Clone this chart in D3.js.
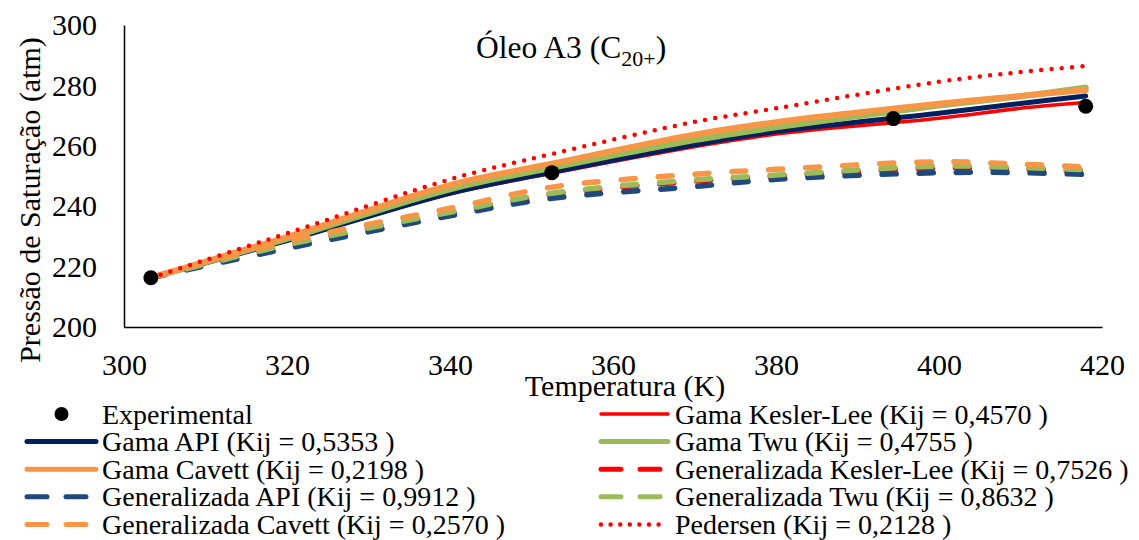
<!DOCTYPE html>
<meta charset="utf-8">
<style>
  body { margin: 0; background: #fff; }
  svg text { font-family: "Times New Roman", "Liberation Serif", Tinos, Times, "DejaVu Serif", serif; fill: #000; }
</style>
<script src="https://d3js.org/d3.v7.min.js"></script>
<div id="chart"></div>
<script>
// data
var tempGrid   = [303.3, 320, 340, 352.5, 370, 380, 400, 410, 418];
var gamaAPI    = [216.3, 228.6, 244.3, 251.2, 260.3, 264.7, 270.8, 274.0, 276.5];
var gamaKL     = [216.3, 228.5, 244.1, 250.9, 259.7, 263.9, 269.1, 272.4, 274.3];
var gamaTwu    = [216.3, 229.2, 245.6, 252.7, 261.9, 266.1, 273.3, 276.4, 279.3];
var gamaCavett = [216.3, 229.8, 247.0, 254.1, 263.7, 267.8, 273.9, 276.5, 278.5];
var genAPI     = [216.3, 226.0, 236.8, 242.6, 246.5, 248.9, 251.1, 251.1, 250.5];
var genKL      = [216.3, 227.0, 237.7, 243.9, 248.3, 249.9, 252.7, 252.3, 251.6];
var genTwu     = [216.3, 227.2, 238.0, 244.3, 248.7, 250.3, 253.3, 252.8, 252.1];
var genCavett  = [216.3, 228.3, 239.3, 246.3, 250.6, 252.2, 254.7, 253.9, 253.0];
var pedersen   = [216.3, 231.0, 248.9, 257.3, 267.9, 272.4, 281.2, 284.4, 286.4];

var expT = [303.3, 352.5, 394.4, 418.0];
var expP = [216.3, 251.1, 269.0, 273.1];

var xTicks = [300, 320, 340, 360, 380, 400, 420];
var yTicks = [200, 220, 240, 260, 280, 300];

var FONT = "'Times New Roman', 'Liberation Serif', Tinos, Times, 'DejaVu Serif', serif";

// series in drawing order
var series = [
  {name: "Gama Kesler-Lee (Kij = 0,4570 )",        values: gamaKL,     color: "#ff0000", width: 3.5, dash: null},
  {name: "Gama API (Kij = 0,5353 )",               values: gamaAPI,    color: "#002060", width: 5,   dash: null},
  {name: "Gama Twu (Kij = 0,4755 )",               values: gamaTwu,    color: "#9bbb59", width: 6,   dash: null},
  {name: "Gama Cavett (Kij = 0,2198 )",            values: gamaCavett, color: "#f79646", width: 6,   dash: null},
  {name: "Generalizada Kesler-Lee (Kij = 0,7526 )",values: genKL,      color: "#ff0000", width: 5.5, dash: "14,23"},
  {name: "Generalizada API (Kij = 0,9912 )",       values: genAPI,     color: "#1f497d", width: 5.5, dash: "14,23"},
  {name: "Generalizada Twu (Kij = 0,8632 )",       values: genTwu,     color: "#9bbb59", width: 5.5, dash: "14,23"},
  {name: "Generalizada Cavett (Kij = 0,2570 )",    values: genCavett,  color: "#f79646", width: 5.5, dash: "14,23"},
  {name: "Pedersen (Kij = 0,2128 )",               values: pedersen,   color: "#ff0000", width: 4.5, dash: "0,10.3"}
];

var W = 1139, H = 540;
var margin = {top: 25, left: 124, right: 37, bottom: 213};

var svg = d3.select("#chart").append("svg")
    .attr("width", W).attr("height", H);

var x = d3.scaleLinear().domain([300, 420]).range([margin.left, W - margin.right]);
var y = d3.scaleLinear().domain([200, 300]).range([H - margin.bottom, margin.top]);

// axes (only the lines and labels, no ticks)
var xAxis = svg.append("g")
    .attr("transform", "translate(0," + y(200) + ")")
    .call(d3.axisBottom(x).tickValues(xTicks).tickSize(0).tickPadding(27));
xAxis.attr("font-family", FONT);
xAxis.select(".domain").attr("stroke", "#000").attr("stroke-width", 1.5);
xAxis.selectAll("text").style("font-size", "30px").attr("fill", "#000");

var yAxis = svg.append("g")
    .attr("transform", "translate(" + x(300) + ",0)")
    .call(d3.axisLeft(y).tickValues(yTicks).tickSize(0).tickPadding(27));
yAxis.attr("font-family", FONT);
yAxis.select(".domain").attr("stroke", "#000").attr("stroke-width", 1.5);
yAxis.selectAll("text").style("font-size", "30px").attr("fill", "#000");

// curves
var line = d3.line()
    .x(function(d) { return x(d[0]); })
    .y(function(d) { return y(d[1]); })
    .curve(d3.curveCatmullRom.alpha(0.5));

series.forEach(function(s) {
  svg.append("path")
    .datum(tempGrid.map(function(t, i) { return [t, s.values[i]]; }))
    .attr("d", line)
    .attr("fill", "none")
    .attr("stroke", s.color)
    .attr("stroke-width", s.width)
    .attr("stroke-linecap", "round")
    .attr("stroke-dasharray", s.dash);
});

// experimental points
svg.selectAll(".exp")
  .data(expT.map(function(t, i) { return [t, expP[i]]; }))
  .enter().append("circle")
    .attr("cx", function(d) { return x(d[0]); })
    .attr("cy", function(d) { return y(d[1]); })
    .attr("r", 7.5)
    .attr("fill", "#000");

// titles
var title = svg.append("text")
    .attr("x", 476).attr("y", 58)
    .style("font-size", "31.5px");
title.append("tspan").text("Óleo A3 (C");
title.append("tspan").text("20+").attr("dy", 8).style("font-size", "22px");
title.append("tspan").text(")").attr("dy", -8);

svg.append("text")
    .attr("x", 625).attr("y", 396)
    .attr("text-anchor", "middle")
    .style("font-size", "30px")
    .text("Temperatura (K)");

svg.append("text")
    .attr("transform", "translate(40,200) rotate(-90)")
    .attr("text-anchor", "middle")
    .style("font-size", "30px")
    .text("Pressão de Saturação (atm)");

// legend, two columns like the reference
var leftCol = ["Experimental", "Gama API (Kij = 0,5353 )", "Gama Cavett (Kij = 0,2198 )",
               "Generalizada API (Kij = 0,9912 )", "Generalizada Cavett (Kij = 0,2570 )"];
var rightCol = ["Gama Kesler-Lee (Kij = 0,4570 )", "Gama Twu (Kij = 0,4755 )",
                "Generalizada Kesler-Lee (Kij = 0,7526 )", "Generalizada Twu (Kij = 0,8632 )",
                "Pedersen (Kij = 0,2128 )"];

function drawLegendCol(names, x0, sx0, sx1) {
  names.forEach(function(n, i) {
    var cy = 414 + i * 27.6;
    var g = svg.append("g");
    if (n === "Experimental") {
      g.append("circle").attr("cx", (sx0 + sx1) / 2).attr("cy", cy).attr("r", 7).attr("fill", "#000");
    } else {
      var s = series.filter(function(d) { return d.name === n; })[0];
      g.append("line")
        .attr("x1", sx0).attr("x2", sx1).attr("y1", cy).attr("y2", cy)
        .attr("stroke", s.color)
        .attr("stroke-width", s.width > 5 ? 5 : s.width)
        .attr("stroke-linecap", "round")
        .attr("stroke-dasharray", s.dash ? (s.dash === "0,10.3" ? "0,9.6" : "20,19") : null);
    }
    g.append("text")
      .attr("x", x0).attr("y", cy + 9.5)
      .style("font-size", "28px")
      .text(n);
  });
}
drawLegendCol(leftCol, 102, 27, 96);
drawLegendCol(rightCol, 675, 601, 668);
</script>
